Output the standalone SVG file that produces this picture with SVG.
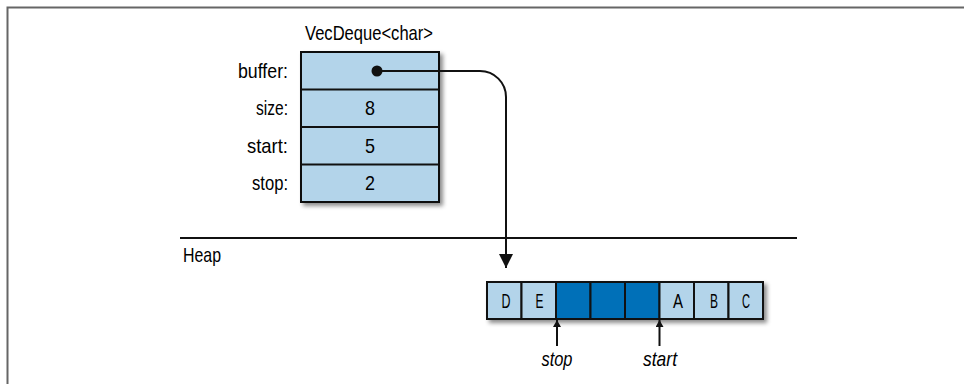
<svg xmlns="http://www.w3.org/2000/svg" width="964" height="384" viewBox="0 0 964 384">
<defs>
<style>
text{font-family:"Liberation Sans",Arial,sans-serif;font-size:21px;fill:#000}
.lbl{text-anchor:end}
.mid{text-anchor:middle}
.it{font-style:italic;text-anchor:middle}
.cell{fill:#b3d4ea;stroke:#111;stroke-width:2}
.dark{fill:#0070b8;stroke:#111;stroke-width:2}
.ln{fill:none;stroke:#111;stroke-width:2}
</style>
<filter id="sh" x="-10%" y="-10%" width="130%" height="140%">
<feDropShadow dx="3" dy="3" stdDeviation="2" flood-color="#000" flood-opacity="0.45"/>
</filter>
<marker id="ah" markerWidth="16" markerHeight="14" refX="14" refY="7" orient="auto" markerUnits="userSpaceOnUse">
<path d="M0,0 L14,7 L0,14 z" fill="#111"/>
</marker>
<marker id="sa" markerWidth="8" markerHeight="8" refX="7" refY="4" orient="auto" markerUnits="userSpaceOnUse">
<path d="M0,0 L7,4 L0,8 z" fill="#111"/>
</marker>
</defs>
<rect x="7.5" y="7.5" width="1000" height="500" fill="#fff" stroke="#666" stroke-width="2"/>

<g id="vecdeque">
<text class="mid" x="369" y="40" textLength="128" lengthAdjust="spacingAndGlyphs">VecDeque&lt;char&gt;</text>
<g filter="url(#sh)">
<rect class="cell" x="301" y="52" width="138" height="150"/>
</g>
<line class="ln" x1="301" y1="89.5" x2="439" y2="89.5"/>
<line class="ln" x1="301" y1="127" x2="439" y2="127"/>
<line class="ln" x1="301" y1="164.5" x2="439" y2="164.5"/>
<text class="lbl" x="288" y="78" textLength="50" lengthAdjust="spacingAndGlyphs">buffer:</text>
<text class="lbl" x="288" y="115" textLength="32" lengthAdjust="spacingAndGlyphs">size:</text>
<text class="lbl" x="288" y="153" textLength="41" lengthAdjust="spacingAndGlyphs">start:</text>
<text class="lbl" x="288" y="190" textLength="36" lengthAdjust="spacingAndGlyphs">stop:</text>
<text class="mid" x="370" y="115" textLength="10" lengthAdjust="spacingAndGlyphs">8</text>
<text class="mid" x="370" y="153" textLength="10" lengthAdjust="spacingAndGlyphs">5</text>
<text class="mid" x="370" y="190" textLength="10" lengthAdjust="spacingAndGlyphs">2</text>
<circle cx="377" cy="71" r="5.5" fill="#111"/>
</g>

<g id="heap">
<line class="ln" x1="180" y1="238" x2="797" y2="238"/>
<text x="183" y="262" textLength="38" lengthAdjust="spacingAndGlyphs">Heap</text>
</g>

<g id="buffer">
<g filter="url(#sh)">
<rect class="cell" x="487" y="282" width="276" height="37"/>
</g>
<rect class="cell" x="487" y="282" width="34.5" height="37"/>
<rect class="cell" x="521.5" y="282" width="34.5" height="37"/>
<rect class="dark" x="556" y="282" width="34.5" height="37"/>
<rect class="dark" x="590.5" y="282" width="34.5" height="37"/>
<rect class="dark" x="625" y="282" width="34.5" height="37"/>
<rect class="cell" x="659.5" y="282" width="34.5" height="37"/>
<rect class="cell" x="694" y="282" width="34.5" height="37"/>
<rect class="cell" x="728.5" y="282" width="34.5" height="37"/>
<text class="mid" x="506" y="308" textLength="9" lengthAdjust="spacingAndGlyphs">D</text>
<text class="mid" x="539.5" y="308" textLength="8" lengthAdjust="spacingAndGlyphs">E</text>
<text class="mid" x="678" y="308" textLength="10" lengthAdjust="spacingAndGlyphs">A</text>
<text class="mid" x="714" y="308" textLength="8" lengthAdjust="spacingAndGlyphs">B</text>
<text class="mid" x="746" y="308" textLength="8" lengthAdjust="spacingAndGlyphs">C</text>
<text class="it" x="557" y="366" textLength="31" lengthAdjust="spacingAndGlyphs">stop</text>
<text class="it" x="660" y="366" textLength="34" lengthAdjust="spacingAndGlyphs">start</text>
</g>

<g id="connectors">
<path class="ln" d="M377,71 H480 A26,26 0 0 1 506,97 V268" marker-end="url(#ah)"/>
<line class="ln" x1="557" y1="346" x2="557" y2="320" stroke-width="1.5" marker-end="url(#sa)"/>
<line class="ln" x1="659.5" y1="346" x2="659.5" y2="320" stroke-width="1.5" marker-end="url(#sa)"/>
</g>
</svg>
